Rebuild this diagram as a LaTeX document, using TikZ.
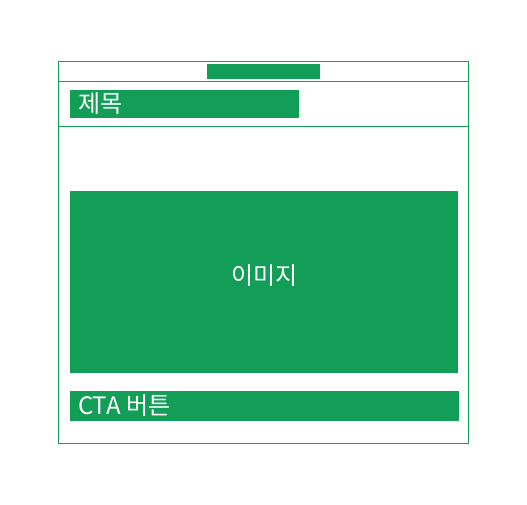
\documentclass[tikz,border=0pt]{standalone}
\usepackage{fontspec}
\newfontfamily\kofont{Noto Sans CJK KR}
\definecolor{mockgreen}{RGB}{19,158,87}
\begin{document}
\begin{tikzpicture}[x=1pt,y=-1pt,
    frame/.style={draw=mockgreen,line width=1pt},
    block/.style={fill=mockgreen,draw=none,inner sep=0pt},
    label/.style={text=white,font=\kofont\fontsize{24}{24}\selectfont,inner sep=0pt}]
    \useasboundingbox (0,0) rectangle (527,505);
    % Frame %
    \draw[frame] (58.5,61.5) rectangle (468.5,443.5);
    \draw[frame] (58.5,81.5) -- (468.5,81.5);
    \draw[frame] (58.5,126.5) -- (468.5,126.5);

    % Blocks %
    \fill[mockgreen] (207,64) rectangle (320,79);
    \node[block,minimum width=229pt,minimum height=28pt] (title) at (184.5,104) {};
    \node[label,anchor=west] (titletext) at ([xshift=8pt]title.west) {제목};
    \node[block,minimum width=388pt,minimum height=182pt] (image) at (264,282) {};
    \node[label] (imagetext) at (264.5,276) {이미지};
    \node[block,minimum width=389pt,minimum height=30pt] (cta) at (264.5,406) {};
    \node[label,anchor=west] (ctatext) at ([xshift=8pt]cta.west) {CTA 버튼};
\end{tikzpicture}
\end{document}
